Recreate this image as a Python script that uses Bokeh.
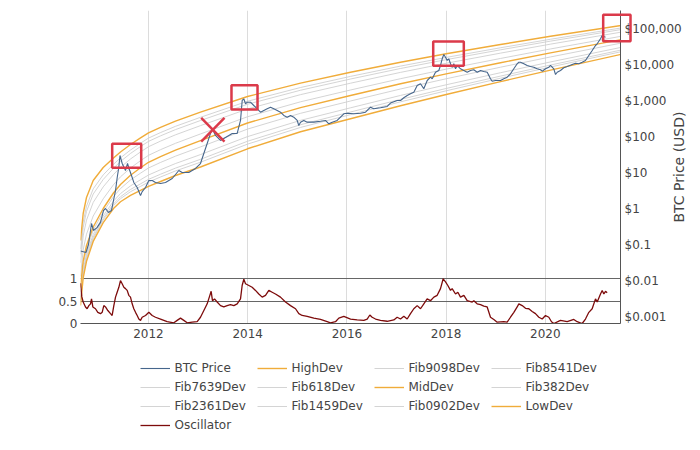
import math
from bokeh.plotting import figure
from bokeh.layouts import column
from bokeh.core.properties import value
from bokeh.models import (Range1d, LinearAxis, FixedTicker, CustomJSTickFormatter,
                          Grid, Legend, LegendItem, LinearScale)
from bokeh.embed import file_html
from bokeh.resources import INLINE

FONT = "DejaVu Sans"
TXT = "#444444"

# ---------------- data ----------------
year_ticks = [2012, 2014, 2016, 2018, 2020]
price_ticks = [0.001, 0.01, 0.1, 1, 10, 100, 1000, 10000, 100000]
osc_ticks = [0, 0.5, 1]

price_year = [
    2010.629, 2010.740, 2010.790, 2010.831, 2010.851, 2010.891, 2010.962, 2011.032, 2011.093, 2011.133,
    2011.194, 2011.254, 2011.294, 2011.335, 2011.369, 2011.401, 2011.425, 2011.470, 2011.536, 2011.577,
    2011.607, 2011.657, 2011.704, 2011.772, 2011.839, 2011.873, 2011.940, 2012.006, 2012.075, 2012.141,
    2012.242, 2012.343, 2012.478, 2012.611, 2012.679, 2012.813, 2012.948, 2013.048, 2013.115, 2013.183,
    2013.250, 2013.284, 2013.351, 2013.452, 2013.552, 2013.688, 2013.788, 2013.855, 2013.889, 2013.921,
    2013.956, 2013.990, 2014.056, 2014.123, 2014.192, 2014.258, 2014.325, 2014.393, 2014.460, 2014.526,
    2014.595, 2014.661, 2014.728, 2014.796, 2014.863, 2014.929, 2014.998, 2015.030, 2015.065, 2015.131,
    2015.200, 2015.333, 2015.468, 2015.569, 2015.635, 2015.704, 2015.804, 2015.938, 2016.006, 2016.139,
    2016.274, 2016.375, 2016.476, 2016.542, 2016.677, 2016.812, 2016.879, 2017.014, 2017.081, 2017.147,
    2017.216, 2017.282, 2017.349, 2017.417, 2017.484, 2017.550, 2017.619, 2017.685, 2017.720, 2017.786,
    2017.853, 2017.887, 2017.921, 2017.954, 2017.988, 2018.022, 2018.054, 2018.089, 2018.123, 2018.155,
    2018.190, 2018.224, 2018.290, 2018.357, 2018.425, 2018.492, 2018.558, 2018.627, 2018.694, 2018.760,
    2018.829, 2018.895, 2018.929, 2018.996, 2019.097, 2019.163, 2019.232, 2019.298, 2019.365, 2019.433,
    2019.466, 2019.500, 2019.567, 2019.635, 2019.702, 2019.768, 2019.837, 2019.903, 2019.938, 2020.004,
    2020.071, 2020.105, 2020.171, 2020.206, 2020.240, 2020.306, 2020.373, 2020.442, 2020.542, 2020.609,
    2020.675, 2020.744, 2020.810, 2020.877, 2020.946, 2021.012, 2021.046, 2021.113, 2021.147, 2021.179,
    2021.214,
]
price_usd = [
    0.067, 0.061, 0.102, 0.25, 0.39, 0.25, 0.30, 0.42, 0.90, 1.02,
    0.79, 0.90, 1.7, 3.2, 7.4, 14.0, 30.2, 18.1, 11.6, 18.1,
    13.2, 8.4, 5.4, 3.9, 2.34, 3.0, 3.9, 6.1, 6.1, 5.4,
    5.05, 5.4, 6.95, 11.6, 10.2, 10.2, 13.2, 18.1, 34.4, 65.2,
    124, 170, 109, 79, 96, 124, 124, 284, 1020, 1136,
    826, 914, 914, 740, 600, 482, 538, 600, 664, 600,
    538, 482, 391, 350, 391, 350, 284, 206, 255, 284,
    255, 255, 271, 284, 230, 255, 284, 435, 452, 435,
    452, 482, 664, 600, 639, 695, 863, 1020, 1020, 1211,
    1403, 1565, 1733, 2661, 2966, 2154, 3664, 4525, 4084, 6223,
    6950, 9570, 14680, 19320, 16260, 13160, 14680, 10660, 8577, 10660,
    7743, 9570, 7743, 6950, 6223, 6950, 7262, 6223, 6950, 6516,
    6223, 4084, 3502, 3664, 3664, 4084, 4525, 5623, 7743, 10660,
    11800, 11800, 10660, 9570, 8970, 8577, 7743, 7262, 6640, 7743,
    8577, 9570, 7743, 5380, 6223, 6950, 8260, 8970, 10190, 11070,
    10660, 11800, 13160, 18120, 24950, 34360, 38300, 52750, 65160, 61090,
    58440,
]

# deviation bands (log10 of USD) read at these dates
band_year = [2010.629, 2010.683, 2010.750, 2010.885, 2011.087, 2011.294, 2011.435, 2011.637,
             2011.839, 2012.000, 2012.242, 2012.544, 2013.048, 2013.996, 2015.065, 2016.073,
             2017.081, 2018.002, 2019.097, 2020.105, 2021.597]
high_dev_log10 = [-0.881, -0.131, 0.314, 0.786, 1.147, 1.411, 1.578, 1.786, 1.972, 2.111, 2.264,
                  2.436, 2.683, 3.119, 3.492, 3.794, 4.072, 4.306, 4.564, 4.792, 5.108]
fib9098_log10 = [-1.116, -0.368, 0.074, 0.553, 0.942, 1.236, 1.415, 1.632, 1.822, 1.964, 2.117,
                 2.291, 2.541, 2.987, 3.369, 3.678, 3.964, 4.205, 4.473, 4.709, 5.038]
fib8541_log10 = [-1.262, -0.516, -0.075, 0.409, 0.814, 1.127, 1.314, 1.537, 1.729, 1.872, 2.026,
                 2.200, 2.452, 2.904, 3.293, 3.605, 3.897, 4.143, 4.416, 4.657, 4.994]
fib7639_log10 = [-1.497, -0.754, -0.315, 0.176, 0.609, 0.952, 1.152, 1.383, 1.579, 1.724, 1.880,
                 2.055, 2.310, 2.772, 3.171, 3.489, 3.789, 4.042, 4.324, 4.574, 4.923]
fib618_log10 = [-1.878, -1.139, -0.704, -0.201, 0.277, 0.668, 0.888, 1.134, 1.336, 1.485, 1.642,
                1.819, 2.079, 2.557, 2.972, 3.300, 3.614, 3.879, 4.176, 4.440, 4.809]
mid_dev_log10 = [-2.186, -1.450, -1.019, -0.506, 0.008, 0.439, 0.675, 0.933, 1.139, 1.292, 1.450,
                 1.628, 1.892, 2.383, 2.811, 3.147, 3.472, 3.747, 4.056, 4.331, 4.717]
fib382_log10 = [-2.304, -1.561, -1.123, -0.600, -0.084, 0.338, 0.562, 0.801, 0.990, 1.134, 1.287,
                1.462, 1.719, 2.214, 2.652, 2.994, 3.328, 3.612, 3.933, 4.218, 4.621]
fib2361_log10 = [-2.450, -1.698, -1.251, -0.717, -0.198, 0.212, 0.422, 0.637, 0.806, 0.938, 1.085,
                 1.257, 1.506, 2.005, 2.456, 2.805, 3.149, 3.445, 3.780, 4.079, 4.503]
fib1459_log10 = [-2.540, -1.783, -1.331, -0.789, -0.268, 0.135, 0.335, 0.537, 0.693, 0.818, 0.960,
                 1.130, 1.374, 1.876, 2.335, 2.689, 3.039, 3.342, 3.686, 3.993, 4.430]
fib0902_log10 = [-2.596, -1.835, -1.380, -0.834, -0.312, 0.086, 0.281, 0.474, 0.622, 0.743, 0.883,
                 1.052, 1.293, 1.796, 2.260, 2.616, 2.971, 3.278, 3.627, 3.939, 4.384]
low_dev_log10 = [-2.686, -1.920, -1.459, -0.906, -0.382, 0.009, 0.195, 0.373, 0.509, 0.622, 0.758,
                 0.925, 1.161, 1.667, 2.139, 2.500, 2.861, 3.175, 3.533, 3.853, 4.311]

osc_year = [
    2010.629, 2010.655, 2010.683, 2010.730, 2010.763, 2010.797, 2010.831, 2010.851, 2010.878, 2010.931,
    2010.978, 2011.032, 2011.066, 2011.099, 2011.133, 2011.180, 2011.234, 2011.267, 2011.301, 2011.335,
    2011.368, 2011.402, 2011.435, 2011.469, 2011.503, 2011.536, 2011.570, 2011.603, 2011.637, 2011.671,
    2011.704, 2011.738, 2011.772, 2011.805, 2011.839, 2011.872, 2011.940, 2012.007, 2012.074, 2012.141,
    2012.242, 2012.376, 2012.511, 2012.578, 2012.645, 2012.712, 2012.780, 2012.880, 2012.981, 2013.048,
    2013.116, 2013.183, 2013.237, 2013.263, 2013.290, 2013.331, 2013.384, 2013.452, 2013.519, 2013.586,
    2013.653, 2013.720, 2013.788, 2013.855, 2013.888, 2013.922, 2013.956, 2014.023, 2014.090, 2014.157,
    2014.224, 2014.292, 2014.359, 2014.426, 2014.493, 2014.560, 2014.661, 2014.762, 2014.863, 2014.964,
    2015.031, 2015.098, 2015.199, 2015.333, 2015.468, 2015.602, 2015.669, 2015.770, 2015.837, 2015.938,
    2016.073, 2016.207, 2016.341, 2016.409, 2016.462, 2016.509, 2016.577, 2016.677, 2016.812, 2016.946,
    2017.013, 2017.081, 2017.148, 2017.215, 2017.282, 2017.349, 2017.417, 2017.484, 2017.551, 2017.618,
    2017.685, 2017.753, 2017.820, 2017.887, 2017.941, 2017.988, 2018.035, 2018.089, 2018.122, 2018.190,
    2018.237, 2018.290, 2018.358, 2018.425, 2018.526, 2018.559, 2018.626, 2018.694, 2018.761, 2018.828,
    2018.895, 2018.962, 2019.030, 2019.164, 2019.231, 2019.298, 2019.366, 2019.433, 2019.466, 2019.534,
    2019.601, 2019.668, 2019.735, 2019.802, 2019.870, 2019.937, 2020.004, 2020.071, 2020.125, 2020.172,
    2020.306, 2020.441, 2020.575, 2020.642, 2020.743, 2020.810, 2020.878, 2020.945, 2021.012, 2021.046,
    2021.113, 2021.147, 2021.180, 2021.214, 2021.247,
]
osc_value = [
    0.90, 0.60, 0.48, 0.37, 0.33, 0.40, 0.44, 0.55, 0.37, 0.33,
    0.25, 0.22, 0.25, 0.40, 0.37, 0.29, 0.22, 0.18, 0.40, 0.59,
    0.70, 0.81, 0.96, 0.89, 0.81, 0.78, 0.74, 0.63, 0.59, 0.44,
    0.33, 0.25, 0.18, 0.10, 0.07, 0.14, 0.18, 0.25, 0.18, 0.14,
    0.10, 0.04, 0.015, 0.07, 0.12, 0.07, 0.015, 0.03, 0.04, 0.14,
    0.29, 0.44, 0.63, 0.72, 0.51, 0.55, 0.48, 0.40, 0.37, 0.40,
    0.42, 0.40, 0.44, 0.55, 0.85, 0.99, 0.89, 0.85, 0.81, 0.74,
    0.66, 0.59, 0.63, 0.74, 0.70, 0.66, 0.59, 0.48, 0.40, 0.33,
    0.22, 0.18, 0.16, 0.12, 0.09, 0.04, 0.015, 0.04, 0.12, 0.16,
    0.10, 0.08, 0.07, 0.10, 0.19, 0.14, 0.10, 0.07, 0.05, 0.08,
    0.14, 0.10, 0.16, 0.10, 0.22, 0.33, 0.40, 0.33, 0.44, 0.55,
    0.51, 0.59, 0.63, 0.78, 1.00, 0.93, 0.85, 0.74, 0.78, 0.66,
    0.70, 0.59, 0.63, 0.51, 0.48, 0.51, 0.44, 0.42, 0.39, 0.37,
    0.14, 0.09, 0.03, 0.04, 0.03, 0.14, 0.25, 0.37, 0.44, 0.40,
    0.34, 0.33, 0.27, 0.22, 0.14, 0.10, 0.18, 0.14, 0.04, 0.00,
    0.07, 0.04, 0.09, 0.04, 0.00, 0.10, 0.25, 0.33, 0.55, 0.48,
    0.66, 0.74, 0.66, 0.72, 0.69,
]

# highlighted cycle tops (boxes) and the crossed-out 2013 top
box_left = [2011.268, 2013.673, 2017.740, 2021.167]
box_right = [2011.853, 2014.198, 2018.357, 2021.718]
box_bottom = [13.8, 573, 9380, 45250]
box_top = [64.0, 2712, 44360, 244900]
cross_x = [2013.0625, 2013.532]
cross_y = [74.0, 337.0]

# ---------------- styles ----------------
ORANGE = "#f0ac3a"
GRAY = "#cfcfcf"
BLUE = "#46668c"
DARKRED = "#7d0b0b"
RED = "#db3a4a"

def usd(vals):
    return [10 ** v for v in vals]

# (legend label, x values, y values, colour, width)
series = [
    ("BTC Price", price_year, price_usd, BLUE, 1.1),
    ("HighDev", band_year, usd(high_dev_log10), ORANGE, 1.4),
    ("Fib9098Dev", band_year, usd(fib9098_log10), GRAY, 0.9),
    ("Fib8541Dev", band_year, usd(fib8541_log10), GRAY, 0.9),
    ("Fib7639Dev", band_year, usd(fib7639_log10), GRAY, 0.9),
    ("Fib618Dev", band_year, usd(fib618_log10), GRAY, 0.9),
    ("MidDev", band_year, usd(mid_dev_log10), ORANGE, 1.4),
    ("Fib382Dev", band_year, usd(fib382_log10), GRAY, 0.9),
    ("Fib2361Dev", band_year, usd(fib2361_log10), GRAY, 0.9),
    ("Fib1459Dev", band_year, usd(fib1459_log10), GRAY, 0.9),
    ("Fib0902Dev", band_year, usd(fib0902_log10), GRAY, 0.9),
    ("LowDev", band_year, usd(low_dev_log10), ORANGE, 1.4),
    ("Oscillator", osc_year, osc_value, DARKRED, 1.3),
]

# ---------------- main figure ----------------
p = figure(width=692, height=345, y_axis_type="log", y_axis_location="right",
           x_range=Range1d(2010.629, 2021.516),
           y_range=Range1d(10 ** -3.186, 10 ** 5.508),
           output_backend="svg", toolbar_location=None, title=None,
           min_border_left=80, min_border_right=72, min_border_top=10,
           min_border_bottom=22)
p.outline_line_color = None
p.extra_y_ranges = {"osc": Range1d(0, 7.0)}
p.extra_y_scales = {"osc": LinearScale()}

p.xgrid.ticker = FixedTicker(ticks=year_ticks)
p.xgrid.grid_line_color = "#dcdcdc"
p.ygrid.grid_line_color = None
osc_grid = Grid(dimension=1, y_range_name="osc", ticker=FixedTicker(ticks=[0.5, 1.0]),
                grid_line_color="#666666", grid_line_width=1)
p.add_layout(osc_grid)

def style_axis(ax, standoff):
    ax.major_tick_out = 0
    ax.major_tick_in = 0
    ax.minor_tick_out = 0
    ax.minor_tick_in = 0
    ax.major_tick_line_color = None
    ax.minor_tick_line_color = None
    ax.major_label_text_font = FONT
    ax.major_label_text_font_size = "12px"
    ax.major_label_text_color = TXT
    ax.major_label_standoff = standoff

xa = p.xaxis[0]
xa.ticker = FixedTicker(ticks=year_ticks)
xa.formatter = CustomJSTickFormatter(code="return tick.toFixed(0);")
xa.axis_line_color = "#555555"
style_axis(xa, 5)

ya = p.yaxis[0]
ya.ticker = FixedTicker(ticks=price_ticks)
ya.formatter = CustomJSTickFormatter(code="""
if (tick >= 1) {
  return "$" + Math.round(tick).toString().replace(/\\B(?=(\\d{3})+(?!\\d))/g, ",");
}
return "$" + Number(tick.toPrecision(1)).toString();
""")
ya.axis_line_color = "#555555"
style_axis(ya, 4)

oa = LinearAxis(y_range_name="osc", ticker=FixedTicker(ticks=osc_ticks),
                formatter=CustomJSTickFormatter(code="return tick === 0.5 ? '0.5' : tick.toFixed(0);"))
oa.axis_line_color = None
style_axis(oa, 3)
p.add_layout(oa, "left")

# bands (grey fib lines first, then orange deviations), price, oscillator
draw_order = [s for s in series if s[3] == GRAY] + [s for s in series if s[3] == ORANGE]
for name, xs, ys, color, width in draw_order:
    p.line(xs, ys, line_color=color, line_width=width)
p.line(price_year, price_usd, line_color=BLUE, line_width=1.1)
p.line(osc_year, osc_value, y_range_name="osc", line_color=DARKRED, line_width=1.3)

p.quad(left=box_left, right=box_right, bottom=box_bottom, top=box_top,
       fill_color=None, line_color=RED, line_width=2.5, level="overlay")
p.segment(x0=[cross_x[0], cross_x[0]], y0=[cross_y[1], cross_y[0]],
          x1=[cross_x[1], cross_x[1]], y1=[cross_y[0], cross_y[1]],
          line_color=RED, line_width=2.5, level="overlay")

# vertical title of the price axis, reading upwards, beside the tick labels
p.text(x=[2022.695], y=[10 ** 1.161], text=["BTC Price (USD)"], angle=math.pi / 2,
       text_align="center", text_baseline="middle", text_font=value(FONT),
       text_font_size="14px", text_color=TXT, level="overlay")

# ---------------- legend strip ----------------
lg = figure(width=692, height=95, output_backend="svg", toolbar_location=None, title=None,
            x_axis_location=None, y_axis_location=None, min_border=0,
            x_range=Range1d(0, 1), y_range=Range1d(0, 1))
lg.outline_line_color = None
lg.grid.visible = False
items = []
for name, xs, ys, color, width in series:
    r = lg.line(xs, ys, line_color=color, line_width=width)  # outside the strip's view
    items.append(LegendItem(label=name, renderers=[r]))
legend = Legend(items=items, location=(59.5, 8), orientation="horizontal", ncols=4,
                spacing=5, padding=0, margin=0, glyph_width=30, glyph_height=14,
                label_height=14, label_width=77, label_standoff=5,
                label_text_font=FONT, label_text_font_size="12px", label_text_color=TXT,
                border_line_color=None, background_fill_alpha=0)
lg.add_layout(legend)

open("out.html", "w").write(file_html(column(p, lg, spacing=0), INLINE))
